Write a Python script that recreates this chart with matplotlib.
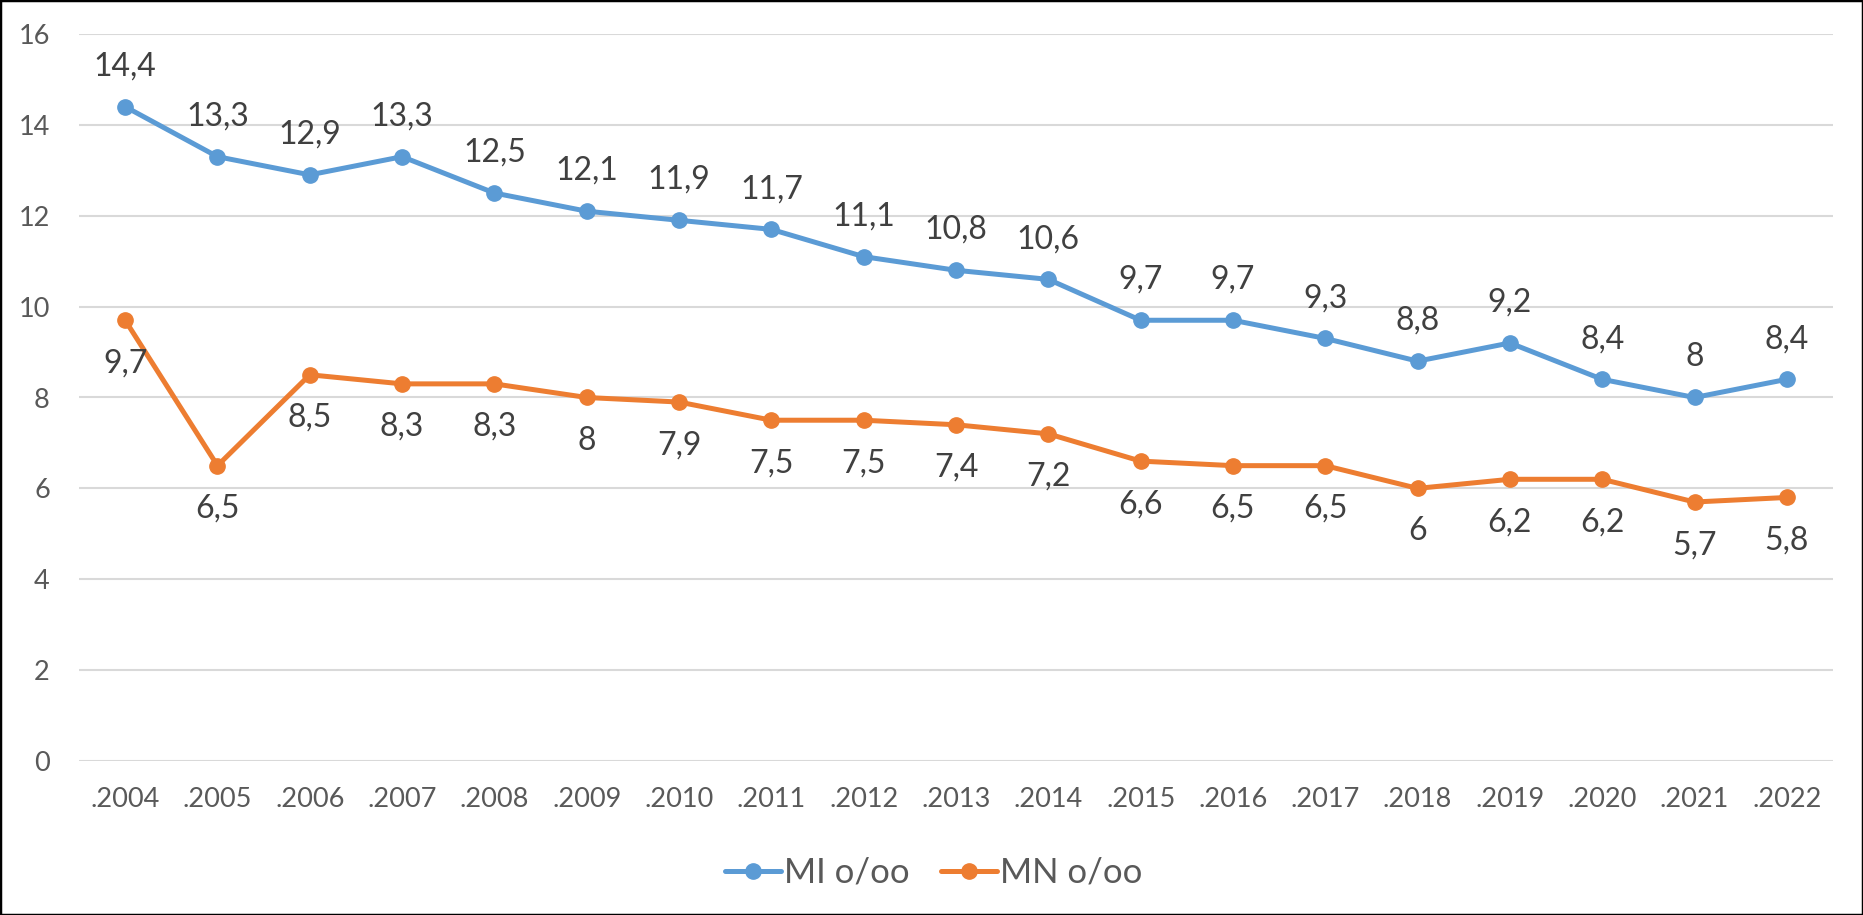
import matplotlib
matplotlib.use("Agg")
import matplotlib.pyplot as plt
from matplotlib.patches import Rectangle

years = [".2004", ".2005", ".2006", ".2007", ".2008", ".2009", ".2010", ".2011",
         ".2012", ".2013", ".2014", ".2015", ".2016", ".2017", ".2018", ".2019",
         ".2020", ".2021", ".2022"]
mi = [14.4, 13.3, 12.9, 13.3, 12.5, 12.1, 11.9, 11.7, 11.1, 10.8, 10.6, 9.7,
      9.7, 9.3, 8.8, 9.2, 8.4, 8, 8.4]
mn = [9.7, 6.5, 8.5, 8.3, 8.3, 8, 7.9, 7.5, 7.5, 7.4, 7.2, 6.6, 6.5, 6.5, 6,
      6.2, 6.2, 5.7, 5.8]
y_ticks = [0, 2, 4, 6, 8, 10, 12, 14, 16]

BLUE = "#5B9BD5"
ORANGE = "#ED7D31"
plt.rcParams["font.family"] = ["Lato", "DejaVu Sans"]

W, H = 1863, 915
fig = plt.figure(figsize=(W / 100, H / 100), dpi=100)
ax = fig.add_axes([79 / W, (H - 761) / H, 1754 / W, 727 / H])

x = range(len(years))
ax.plot(x, mi, color=BLUE, lw=3.6, marker="o", ms=11, label="MI o/oo",
        zorder=3, solid_capstyle="round")
ax.plot(x, mn, color=ORANGE, lw=3.6, marker="o", ms=11, label="MN o/oo",
        zorder=3, solid_capstyle="round")


def fmt(v):
    return f"{v:g}".replace(".", ",")


for i, v in enumerate(mi):
    ax.annotate(fmt(v), (i, v), xytext=(0, 29), textcoords="offset points",
                ha="center", va="center", fontsize=23, color="#404040")
for i, v in enumerate(mn):
    ax.annotate(fmt(v), (i, v), xytext=(0, -31), textcoords="offset points",
                ha="center", va="center", fontsize=23, color="#404040")

ax.set_xlim(-0.5, len(years) - 0.5)
ax.set_ylim(0, 16)
ax.set_yticks(y_ticks)
ax.set_xticks(list(x))
ax.set_xticklabels(years)
ax.tick_params(axis="both", length=0, labelsize=19.5, colors="#595959")
ax.tick_params(axis="x", pad=19)
ax.tick_params(axis="y", pad=21)
ax.grid(axis="y", color="#D9D9D9", lw=1.5)
ax.set_axisbelow(True)
for s in ax.spines.values():
    s.set_visible(False)

ax.legend(loc="center", bbox_to_anchor=(934 / W, (H - 873) / H),
          bbox_transform=fig.transFigure, ncol=2, frameon=False,
          fontsize=25, labelcolor="#595959", handlelength=1.6,
          handletextpad=0.1, columnspacing=0.9)

fig.patches.append(Rectangle((0, 0), 1, 1, transform=fig.transFigure,
                             fill=False, edgecolor="black", lw=2.5))

fig.savefig("out.png", dpi=100)
